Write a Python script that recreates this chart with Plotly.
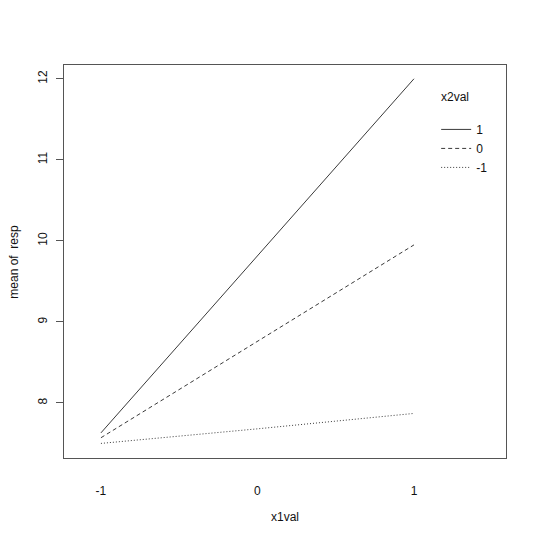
import plotly.graph_objects as go

x1val = ["-1", "0", "1"]
x_pos = [-1, 0, 1]
x2_levels = ["1", "0", "-1"]
resp_1 = [7.63, 9.82, 12.00]
resp_0 = [7.57, 8.76, 9.95]
resp_m1 = [7.50, 7.68, 7.87]
y_ticks = [8, 9, 10, 11, 12]

series = [resp_1, resp_0, resp_m1]
dashes = ["solid", "4px,3px", "1px,2px"]

fig = go.Figure()
for name, vals, d in zip(x2_levels, series, dashes):
    fig.add_trace(go.Scatter(
        x=x_pos, y=vals, mode="lines", name=name,
        line=dict(color="#3a3a3a", width=1, dash=d),
    ))

font = dict(family="Liberation Sans, Arial, sans-serif", size=12, color="#111")

# page body has an 8px margin; size figure so the plot box lands where the reference has it
fig.update_layout(
    width=532, height=531,
    margin=dict(l=56, r=34, t=57, b=81),
    paper_bgcolor="white", plot_bgcolor="white",
    font=font,
    showlegend=True,
    legend=dict(
        x=0.842, y=0.873, xanchor="left", yanchor="top",
        bgcolor="rgba(0,0,0,0)", borderwidth=0,
        font=font, itemwidth=30, tracegroupgap=0,
    ),
    xaxis=dict(
        range=[-1.236, 1.588], tickvals=x_pos, ticktext=x1val,
        showgrid=False, zeroline=False, showline=True, mirror=True,
        linecolor="#555", linewidth=1, ticks="", ticklabelstandoff=22,
        tickfont=font,
    ),
    yaxis=dict(
        range=[7.32, 12.17], tickvals=y_ticks,
        showgrid=False, zeroline=False, showline=True, mirror=True,
        linecolor="#555", linewidth=1, ticks="outside", ticklen=7,
        tickcolor="#555", tickangle=-90, tickfont=font, ticklabelstandoff=4,
    ),
    annotations=[
        dict(text="x2val", xref="paper", yref="paper", x=0.885, y=0.919,
             showarrow=False, font=font, xanchor="center", yanchor="middle"),
        dict(text="x1val", xref="paper", yref="paper", x=0.5, y=-0.150,
             showarrow=False, font=font, yanchor="middle"),
        dict(text="mean of  resp", xref="paper", yref="paper", x=-0.115, y=0.5,
             showarrow=False, font=font, textangle=-90, xanchor="center"),
    ],
)

fig.write_html("out.html")
